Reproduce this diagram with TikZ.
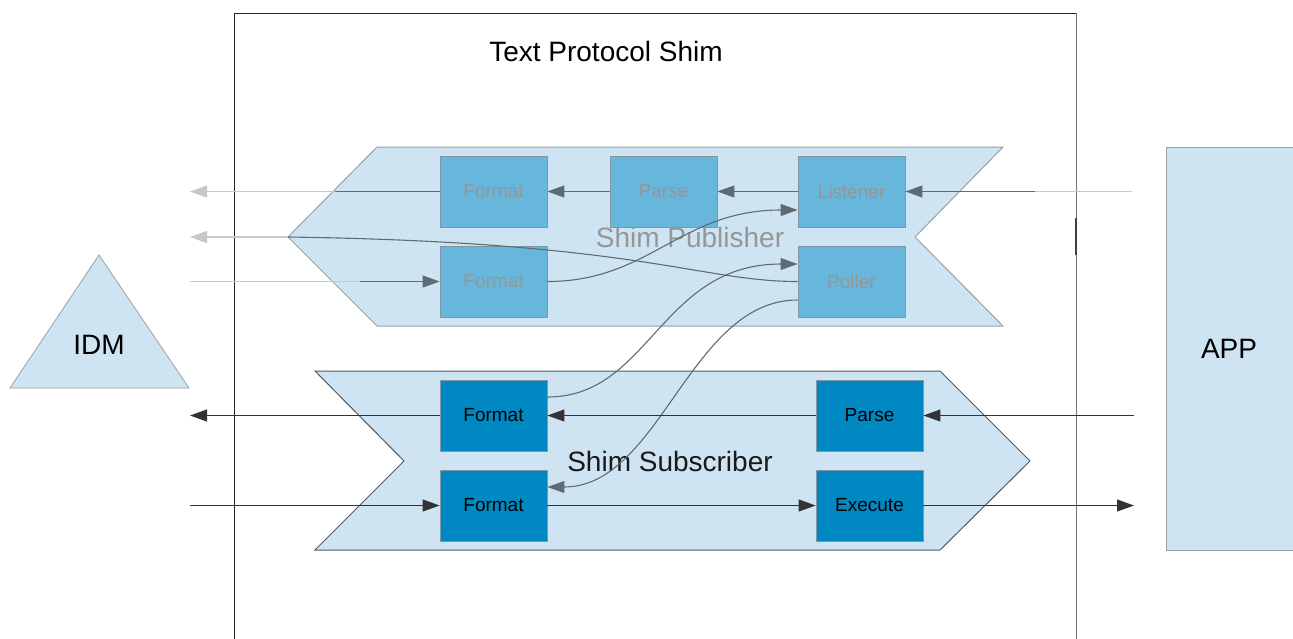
\documentclass[tikz,border=0pt]{standalone}
\usepackage{fontspec}
\setmainfont{Liberation Sans}
\usetikzlibrary{arrows.meta}

\definecolor{shimfill}{RGB}{207,228,242}
\definecolor{pubbox}{RGB}{103,182,220}
\definecolor{subbox}{RGB}{0,136,194}
\definecolor{pubtext}{RGB}{150,150,150}
\definecolor{publine}{RGB}{95,107,115}
\definecolor{fadeline}{RGB}{200,200,200}
\definecolor{boxedge}{RGB}{128,150,165}
\definecolor{puboutline}{RGB}{150,162,170}
\definecolor{suboutline}{RGB}{85,90,95}

\tikzset{
  tip/.style={-{Triangle[length=17pt,width=12pt]}},
  block/.style={draw=boxedge, line width=0.8pt, minimum width=107pt, minimum height=71pt,
    inner sep=0pt, font=\fontsize{19}{21}\selectfont},
  pubblock/.style={block, fill=pubbox, text=pubtext},
  subblock/.style={block, fill=subbox, text=black},
  publink/.style={draw=publine, line width=1.1pt},
  fadelink/.style={draw=fadeline, line width=1.1pt},
  sublink/.style={draw=black!80, line width=1.1pt},
  biglabel/.style={font=\fontsize{28}{31}\selectfont, inner sep=0pt},
}

\begin{document}
\begin{tikzpicture}[x=1pt, y=-1pt]
  \clip (0,0) rectangle (1293,638);
  \fill[white] (0,0) rectangle (1293,638);

  % outer shim frame
  \draw[black!85, line width=1pt] (234,640) -- (234,13) -- (1076,13);
  \draw[black!55, line width=1pt] (1076,13) -- (1076,640);
  \draw[black!75, line width=2.5pt] (1076,218) -- (1076,255);
  \node[biglabel] (title) at (606,51) {Text Protocol Shim};

  % IDM and APP
  \draw[fill=shimfill, draw=puboutline, line width=0.8pt] (99,255) -- (189,388) -- (10,388) -- cycle;
  \node[biglabel] (idm) at (99,345) {IDM};
  \draw[fill=shimfill, draw=puboutline, line width=0.8pt] (1166,147) rectangle (1300,550);
  \node[biglabel] (app) at (1229,349) {APP};

  % chevron containers
  \draw[fill=shimfill, draw=puboutline, line width=1pt]
    (377,147) -- (1003,147) -- (915,237) -- (1003,326) -- (377,326) -- (288,237) -- cycle;
  \draw[fill=shimfill, draw=suboutline, line width=1pt]
    (315,371) -- (940,371) -- (1030,461) -- (940,550) -- (315,550) -- (404,461) -- cycle;
  \node[biglabel, text=pubtext] (publabel) at (690,237) {Shim Publisher};
  \node[biglabel, text=black!90] (sublabel) at (670,461) {Shim Subscriber};

  % publisher blocks
  \node[pubblock] (fmtA) at (493.5,191.5) {Format};
  \node[pubblock] (parseA) at (663.5,191.5) {Parse};
  \node[pubblock] (listener) at (851.5,191.5) {Listener};
  \node[pubblock] (fmtB) at (493.5,281.5) {Format};
  \node[pubblock] (poller) at (851.5,281.5) {Poller};

  % subscriber blocks
  \node[subblock] (fmtC) at (493.5,415.5) {Format};
  \node[subblock] (parseB) at (869.5,415.5) {Parse};
  \node[subblock] (fmtD) at (493.5,505.5) {Format};
  \node[subblock] (execute) at (869.5,505.5) {Execute};

  % free ends of the outside connectors
  \coordinate (appIn) at (1132,191.5);
  \coordinate (appFade) at (1035,191.5);
  \coordinate (idmOutA) at (190,191.5);
  \coordinate (fadeA) at (335,191.5);
  \coordinate (tipP) at (288,237);
  \coordinate (idmOutB) at (190,237);
  \coordinate (idmInB) at (190,281.5);
  \coordinate (fadeB) at (360,281.5);
  \coordinate (appInS) at (1134,415.5);
  \coordinate (idmOutS) at (190,415.5);
  \coordinate (idmInS) at (190,505.5);
  \coordinate (appOutS) at (1134,505.5);

  % publisher connectors
  \draw[fadelink] (appIn) -- (appFade);
  \draw[publink, tip] (appFade) -- (listener.east);
  \draw[publink, tip] (listener.west) -- (parseA.east);
  \draw[publink, tip] (parseA.west) -- (fmtA.east);
  \draw[publink] (fmtA.west) -- (fadeA);
  \draw[fadelink, tip] (fadeA) -- (idmOutA);
  \draw[publink] (poller.west) .. controls (700,281.5) and (640,242) .. (tipP);
  \draw[fadelink, tip] (tipP) -- (idmOutB);
  \draw[fadelink] (idmInB) -- (fadeB);
  \draw[publink, tip] (fadeB) -- (fmtB.west);
  \draw[publink, tip] (fmtB.east) .. controls (650,281.5) and (680,210) .. ([yshift=-18.5pt]listener.west);
  \draw[publink, tip] ([yshift=18.5pt]fmtC.east) .. controls (650,397) and (660,264) .. ([yshift=17.5pt]poller.west);
  \draw[publink, tip] ([yshift=-18.5pt]poller.west) .. controls (690,300) and (660,487) .. ([yshift=18.5pt]fmtD.east);

  % subscriber connectors
  \draw[sublink, tip] (appInS) -- (parseB.east);
  \draw[sublink, tip] (parseB.west) -- (fmtC.east);
  \draw[sublink, tip] (fmtC.west) -- (idmOutS);
  \draw[sublink, tip] (idmInS) -- (fmtD.west);
  \draw[sublink, tip] (fmtD.east) -- (execute.west);
  \draw[sublink, tip] (execute.east) -- (appOutS);
\end{tikzpicture}
\end{document}
